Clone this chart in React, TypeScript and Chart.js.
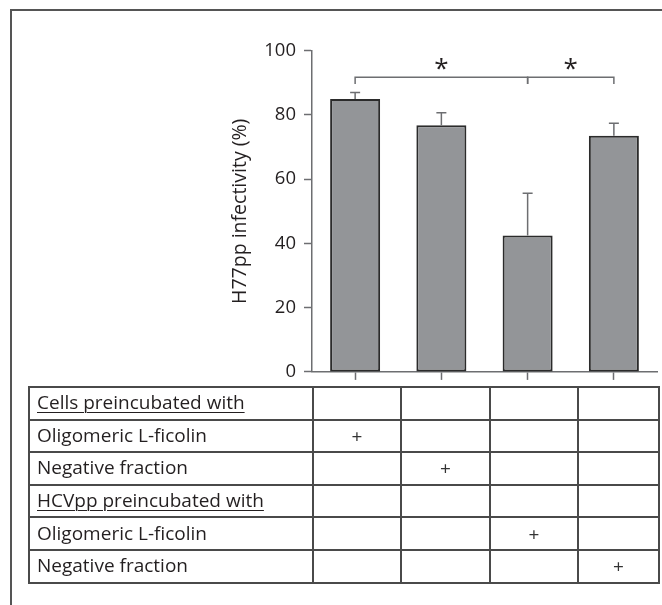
import React, { useEffect, useRef } from "react";
import { Chart, registerables } from "chart.js";

Chart.register(...registerables);

// ---------- data ----------
const categories = ["Cells + L-ficolin", "Cells + negative fraction", "HCVpp + L-ficolin", "HCVpp + negative fraction"];
const infectivity = [85.0, 76.8, 42.5, 73.5];
const errorUpper = [2.0, 3.9, 13.1, 3.9];
const yTicks = [0, 20, 40, 60, 80, 100];
const yTitle = "H77pp infectivity (%)";

const sigPairs = [
  [0, 2],
  [2, 3],
];
const sigLabels = ["*", "*"];
const bracketLevel = 91.7;
const bracketDrop = 89.6;
const starLevel = 96;

const rowLabels = [
  "Cells preincubated with",
  "Oligomeric L-ficolin",
  "Negative fraction",
  "HCVpp preincubated with",
  "Oligomeric L-ficolin",
  "Negative fraction",
];
const rowIsHeading = [true, false, false, true, false, false];
const plusMatrix = [
  [0, 0, 0, 0],
  [1, 0, 0, 0],
  [0, 1, 0, 0],
  [0, 0, 0, 0],
  [0, 0, 1, 0],
  [0, 0, 0, 1],
];

// ---------- style ----------
const FONT = "'Open Sans', 'DejaVu Sans', sans-serif";
const TEXT = "#231f20";
const AXIS = "#6d6e71";
const BAR_FILL = "#939598";
const BAR_EDGE = "#2b2b2b";
const TABLE_LINE = "#4a4a4a";

const annotationPlugin = {
  id: "errorsAndSig",
  afterDatasetsDraw(chart: any) {
    const ctx = chart.ctx;
    const meta = chart.getDatasetMeta(0);
    const y = chart.scales.y;
    ctx.save();
    // error bars (upper only)
    ctx.strokeStyle = AXIS;
    ctx.lineWidth = 1.5;
    meta.data.forEach((bar: any, i: number) => {
      const x = bar.x;
      const yBar = y.getPixelForValue(infectivity[i]);
      const yErr = y.getPixelForValue(infectivity[i] + errorUpper[i]);
      ctx.beginPath();
      ctx.moveTo(x, yBar);
      ctx.lineTo(x, yErr);
      ctx.moveTo(x - 5, yErr);
      ctx.lineTo(x + 5, yErr);
      ctx.stroke();
    });
    // significance brackets
    const yLine = y.getPixelForValue(bracketLevel);
    const yDrop = y.getPixelForValue(bracketDrop);
    const yStar = y.getPixelForValue(starLevel);
    sigPairs.forEach(([a, b], k) => {
      const xa = meta.data[a].x;
      const xb = meta.data[b].x;
      ctx.strokeStyle = AXIS;
      ctx.lineWidth = 1.5;
      ctx.beginPath();
      ctx.moveTo(xa, yDrop);
      ctx.lineTo(xa, yLine);
      ctx.lineTo(xb, yLine);
      ctx.lineTo(xb, yDrop);
      ctx.stroke();
      ctx.fillStyle = TEXT;
      ctx.font = `26px ${FONT}`;
      ctx.textAlign = "center";
      ctx.textBaseline = "alphabetic";
      const m = ctx.measureText(sigLabels[k]);
      const off = (m.actualBoundingBoxAscent - m.actualBoundingBoxDescent) / 2;
      ctx.fillText(sigLabels[k], (xa + xb) / 2, yStar + off);
    });
    ctx.restore();
  },
};

function BarChart() {
  const ref = useRef<HTMLCanvasElement | null>(null);
  useEffect(() => {
    if (!ref.current) return;
    const padLeft = 224.3;
    const chart = new Chart(ref.current, {
      type: "bar",
      data: {
        labels: categories,
        datasets: [
          {
            data: infectivity,
            backgroundColor: BAR_FILL,
            borderColor: BAR_EDGE,
            borderWidth: 2,
            borderSkipped: false,
            categoryPercentage: 1,
            barPercentage: 0.58,
          },
        ],
      },
      options: {
        animation: false,
        responsive: false,
        maintainAspectRatio: false,
        devicePixelRatio: 1,
        layout: { padding: { left: padLeft, right: 5, top: 50.7, bottom: 0 } },
        plugins: { legend: { display: false }, tooltip: { enabled: false } },
        scales: {
          x: {
            type: "category",
            offset: true,
            grid: {
              offset: false,
              drawOnChartArea: false,
              drawTicks: true,
              tickLength: 8,
              tickColor: AXIS,
              tickWidth: 1.5,
              color: AXIS,
            },
            border: { display: true, color: AXIS, width: 1.5 },
            ticks: { display: false },
            afterFit: (s: any) => {
              s.height = 10;
            },
          },
          y: {
            min: yTicks[0],
            max: yTicks[yTicks.length - 1],
            afterBuildTicks: (s: any) => {
              s.ticks = yTicks.map((v) => ({ value: v }));
            },
            grid: {
              drawOnChartArea: false,
              drawTicks: true,
              tickLength: 8,
              tickColor: AXIS,
              tickWidth: 1.5,
              color: AXIS,
            },
            border: { display: true, color: AXIS, width: 1.5 },
            ticks: {
              color: TEXT,
              font: { family: FONT, size: 18.5 },
              padding: 8,
            },
            title: {
              display: true,
              text: yTitle,
              color: TEXT,
              font: { family: FONT, size: 19.5, lineHeight: 1.2 },
              padding: { top: 4, bottom: 4 },
            },
            afterFit: (s: any) => {
              s.width = 312 - padLeft;
            },
          },
        },
      },
      plugins: [annotationPlugin],
    } as any);
    return () => chart.destroy();
  }, []);
  return <canvas ref={ref} width={662} height={391} style={{ display: "block", width: 662, height: 391 }} />;
}

const colWidths = [284, 88, 88.7, 88.3, 80.7];

function ConditionTable() {
  return (
    <table
      style={{
        position: "absolute",
        left: 28,
        top: 386,
        borderCollapse: "collapse",
        tableLayout: "fixed",
        width: colWidths.reduce((a, b) => a + b, 0),
        fontFamily: FONT,
        fontSize: 19,
        color: TEXT,
      }}
    >
      <colgroup>
        {colWidths.map((w, i) => (
          <col key={i} style={{ width: w }} />
        ))}
      </colgroup>
      <tbody>
        {rowLabels.map((label, r) => (
          <tr key={r} style={{ height: 32.6 }}>
            <td
              style={{
                border: `2px solid ${TABLE_LINE}`,
                padding: "0 0 2px 7px",
                textDecoration: rowIsHeading[r] ? "underline" : "none",
                textUnderlineOffset: 3,
                textDecorationThickness: 1,
                whiteSpace: "nowrap",
                lineHeight: "26px",
              }}
            >
              {label}
            </td>
            {plusMatrix[r].map((v, c) => (
              <td
                key={c}
                style={{
                  border: `2px solid ${TABLE_LINE}`,
                  padding: 0,
                  textAlign: "center",
                  lineHeight: "26px",
                  fontSize: 19,
                  color: "#333333",
                }}
              >
                {v ? "+" : ""}
              </td>
            ))}
          </tr>
        ))}
      </tbody>
    </table>
  );
}

export default function App() {
  return (
    <div
      style={{
        position: "absolute",
        left: 0,
        top: 0,
        width: 662,
        height: 605,
        overflow: "hidden",
        background: "#ffffff",
      }}
    >
      <div
        style={{
          position: "absolute",
          left: 10,
          top: 9,
          width: 800,
          height: 800,
          border: "2px solid #555555",
          boxSizing: "border-box",
        }}
      />
      <div style={{ position: "absolute", left: 0, top: 0 }}>
        <BarChart />
      </div>
      <ConditionTable />
    </div>
  );
}
